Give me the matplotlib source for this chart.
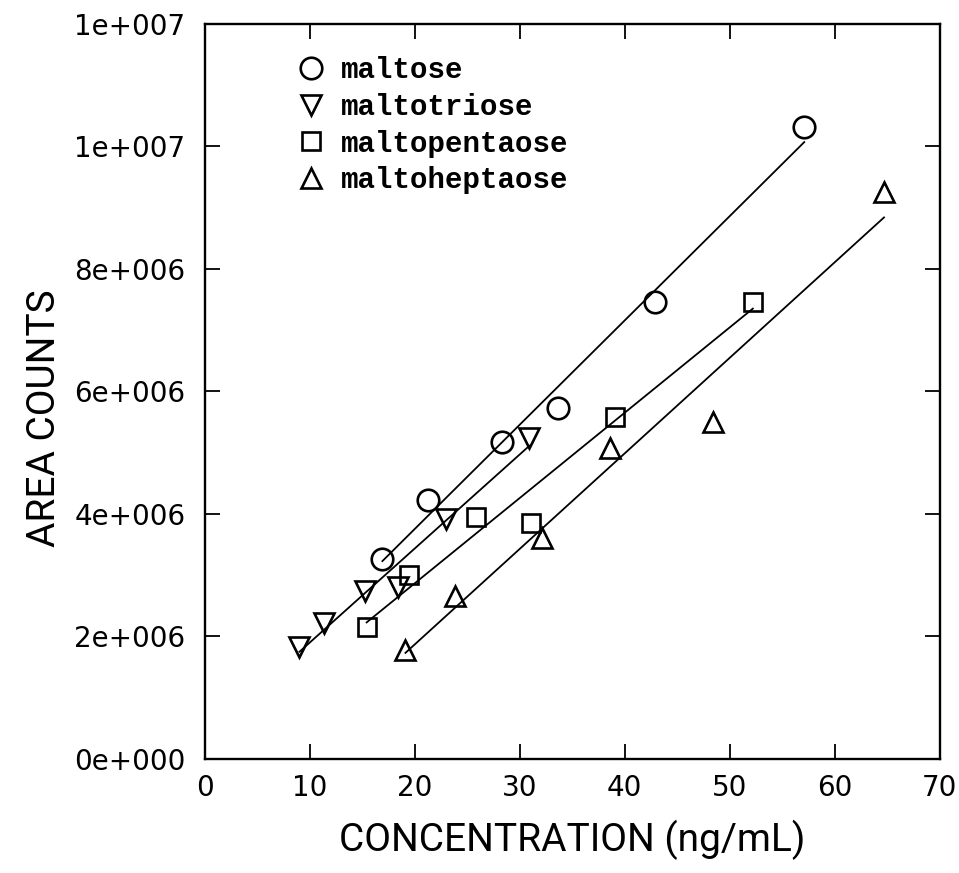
import numpy as np
import matplotlib
matplotlib.use("Agg")
import matplotlib.pyplot as plt
from matplotlib.ticker import FixedLocator, FixedFormatter

# data (concentration in ng/mL, area counts)
maltose_x = [16.9, 21.2, 28.3, 33.6, 42.9, 57.1]
maltose_y = [3.26e6, 4.23e6, 5.17e6, 5.73e6, 7.46e6, 10.31e6]

maltotriose_x = [9.0, 11.3, 15.2, 18.4, 23.0, 30.9]
maltotriose_y = [1.83e6, 2.22e6, 2.74e6, 2.81e6, 3.92e6, 5.24e6]

maltopentaose_x = [15.4, 19.4, 25.8, 31.1, 39.1, 52.2]
maltopentaose_y = [2.15e6, 3.00e6, 3.95e6, 3.85e6, 5.58e6, 7.46e6]

maltoheptaose_x = [19.1, 23.8, 32.1, 38.6, 48.4, 64.7]
maltoheptaose_y = [1.78e6, 2.66e6, 3.61e6, 5.07e6, 5.50e6, 9.25e6]

labels = ["maltose", "maltotriose", "maltopentaose", "maltoheptaose"]
x_ticks = [0, 10, 20, 30, 40, 50, 60, 70]
y_ticks = [0, 2e6, 4e6, 6e6, 8e6, 1e7, 1.2e7]
y_tick_labels = ["0e+000", "2e+006", "4e+006", "6e+006", "8e+006", "1e+007", "1e+007"]

series = [
    (maltose_x, maltose_y, "o", 15.5),
    (maltotriose_x, maltotriose_y, "v", 15),
    (maltopentaose_x, maltopentaose_y, "s", 13.5),
    (maltoheptaose_x, maltoheptaose_y, "^", 15),
]

label_font = ["Roboto", "DejaVu Sans"]

fig = plt.figure(figsize=(9.59, 8.73), dpi=100)
ax = fig.add_axes([0.2138, 0.1306, 0.766, 0.842])

for (xs, ys, mk, ms), name in zip(series, labels):
    xs = np.array(xs)
    ys = np.array(ys)
    # least-squares line over the range of each series
    k, b = np.polyfit(xs, ys, 1)
    xf = np.array([xs.min(), xs.max()])
    ax.plot(xf, k * xf + b, color="black", lw=1.3, zorder=2)
    ax.plot(xs, ys, linestyle="none", marker=mk, markersize=ms,
            markerfacecolor="none", markeredgecolor="black",
            markeredgewidth=1.9, label=name, zorder=3)

ax.set_xlim(0, 70)
ax.set_ylim(0, 1.2e7)
ax.xaxis.set_major_locator(FixedLocator(x_ticks))
ax.yaxis.set_major_locator(FixedLocator(y_ticks))
ax.yaxis.set_major_formatter(FixedFormatter(y_tick_labels))

ax.tick_params(direction="in", length=11, width=1.3, top=True, right=True,
               labelsize=20)
ax.tick_params(axis="y", pad=14)
ax.tick_params(axis="x", pad=11)
for s in ax.spines.values():
    s.set_linewidth(1.7)

ax.set_xlabel("CONCENTRATION (ng/mL)", family=label_font, fontsize=28,
              va="center")
ax.set_ylabel("AREA COUNTS", family=label_font, fontsize=28,
              va="center")
ax.xaxis.set_label_coords(0.5, -0.11)
ax.yaxis.set_label_coords(-0.218, 0.463)

leg = ax.legend(loc="upper left", bbox_to_anchor=(0.108, 0.972), frameon=False,
                prop={"family": ["Liberation Mono", "DejaVu Sans Mono"],
                      "weight": "bold", "size": 21},
                handlelength=1.0, handletextpad=0.55, labelspacing=0.3,
                borderaxespad=0.0)

fig.savefig("out.png", dpi=100)
